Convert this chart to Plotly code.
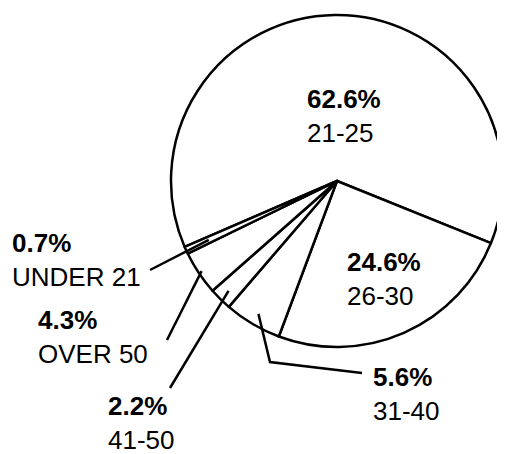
import math
import plotly.graph_objects as go

W, H = 505, 454
OFF = 8  # page body margin in the browser

labels = ['21-25', '26-30', '31-40', '41-50', 'OVER 50', 'UNDER 21']
values = [62.6, 24.6, 5.6, 2.2, 4.3, 0.7]
pct_text = ['62.6%', '24.6%', '5.6%', '2.2%', '4.3%', '0.7%']

# pie geometry in pixels (of the screen)
cx, cy, r = 337, 181, 166
rotation = -113.4


def px(x):
    return (x - OFF) / W


def py(y):
    return 1 - (y - OFF) / H


def mid_point(i, frac):
    total = sum(values)
    start = rotation + 360 * sum(values[:i]) / total
    ang = math.radians(start + 180 * values[i] / total)
    return cx + frac * r * math.sin(ang), cy - frac * r * math.cos(ang)


fig = go.Figure()
fig.add_trace(go.Pie(
    labels=labels, values=values, sort=False, direction='clockwise',
    rotation=rotation, textinfo='none', showlegend=False,
    marker=dict(colors=['white'] * 6, line=dict(color='black', width=2.5)),
    domain=dict(x=[px(cx - r), px(cx + r)], y=[py(cy + r), py(cy - r)]),
))

# label text blocks (left x, middle y)
label_pos = {
    '21-25': (305, 116),
    '26-30': (345, 279),
    '31-40': (371, 394),
    '41-50': (106, 423),
    'OVER 50': (36, 337),
    'UNDER 21': (10, 260),
}
for lab, pct in zip(labels, pct_text):
    x, y = label_pos[lab]
    fig.add_annotation(
        x=px(x), y=py(y), xref='paper', yref='paper', xanchor='left', yanchor='middle',
        align='left', showarrow=False,
        text='<b>' + pct + '</b><br>' + lab,
        font=dict(family='Liberation Sans, Arial', size=26, color='black'),
    )

# leader lines
line = dict(color='black', width=2.5)
x0, y0 = mid_point(5, 0.85)
fig.add_shape(type='line', xref='paper', yref='paper', x0=px(x0), y0=py(y0), x1=px(150), y1=py(270), line=line)
x0, y0 = mid_point(4, 0.98)
fig.add_shape(type='line', xref='paper', yref='paper', x0=px(x0), y0=py(y0), x1=px(167), y1=py(340), line=line)
x0, y0 = mid_point(3, 0.93)
fig.add_shape(type='line', xref='paper', yref='paper', x0=px(x0), y0=py(y0), x1=px(170), y1=py(388), line=line)
x0, y0 = mid_point(2, 0.93)
fig.add_shape(type='path', xref='paper', yref='paper',
              path='M %f %f L %f %f L %f %f' % (px(x0), py(y0), px(270), py(362), px(362), py(373)),
              line=line)

fig.update_layout(
    width=W, height=H,
    margin=dict(l=0, r=0, t=0, b=0),
    paper_bgcolor='white', plot_bgcolor='white',
)

fig.write_html("out.html")
